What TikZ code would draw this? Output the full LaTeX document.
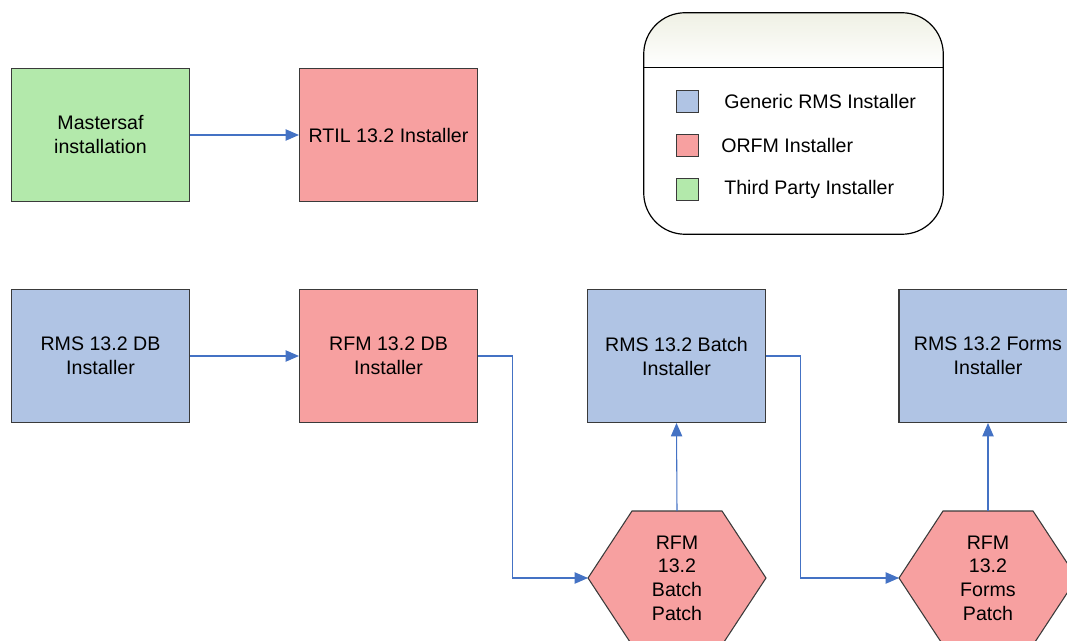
\documentclass[tikz,border=0pt]{standalone}
\usepackage{fontspec}
\setmainfont{Liberation Sans}
\usepackage{xcolor}
\usetikzlibrary{arrows.meta,calc}

\definecolor{rmsblue}{HTML}{B0C4E4}
\definecolor{orfmpink}{HTML}{F7A0A0}
\definecolor{thirdgreen}{HTML}{B3E9AB}
\definecolor{linkblue}{HTML}{4472C4}
\definecolor{edgegray}{HTML}{3A3A3A}
\definecolor{legendtop}{HTML}{EFF0E4}

\tikzset{
    installer/.style={draw=edgegray, line width=0.8pt, minimum width=133.5pt, minimum height=99.75pt,
        align=center, font=\fontsize{14.7}{18}\selectfont},
    patch/.style={draw=edgegray, line width=0.8pt, fill=orfmpink},
    patchtext/.style={align=center, font=\fontsize{14.7}{17.8}\selectfont},
    link/.style={draw=linkblue, line width=0.8pt, -{Triangle[length=10pt,width=8.5pt]}},
    key/.style={draw=edgegray, line width=0.6pt, minimum size=16.5pt, inner sep=0pt},
    keytext/.style={anchor=west, inner sep=0pt, font=\fontsize{14.7}{18}\selectfont},
}

\begin{document}
\begin{tikzpicture}[x=0.75pt, y=-0.75pt]
    \useasboundingbox (0,0) rectangle (1067,641);

    % top row
    \node[installer, fill=thirdgreen] (mastersaf) at (100.5,135) {Mastersaf\\installation};
    \node[installer, fill=orfmpink]   (rtil)      at (388.5,135) {RTIL 13.2 Installer};
    \draw[link] (mastersaf.east) -- (rtil.west);

    % legend
    \node[fill=white, minimum width=224.25pt, minimum height=165.75pt] (legend) at (793.5,123.5) {};
    \begin{scope}
        \clip[rounded corners=31pt] (legend.north west) rectangle (legend.south east);
        \shade[top color=legendtop, bottom color=white] (legend.north west) rectangle ($(legend.north east)+(0,55)$);
    \end{scope}
    \draw[black, line width=0.8pt] ($(legend.north west)+(0,55)$) -- ($(legend.north east)+(0,55)$);
    \draw[black, line width=0.9pt, rounded corners=31pt] (legend.north west) rectangle (legend.south east);

    \node[key, fill=rmsblue]    (keyrms)   at (687.5,101) {};
    \node[key, fill=orfmpink]   (keyorfm)  at (687.5,145.5) {};
    \node[key, fill=thirdgreen] (keythird) at (687.5,189) {};
    \node[keytext] (txtrms)   at (724,101)   {Generic RMS Installer};
    \node[keytext] (txtorfm)  at (721,145.5) {ORFM Installer};
    \node[keytext] (txtthird) at (724,189)   {Third Party Installer};

    % bottom row
    \node[installer, fill=rmsblue]  (rmsdb)    at (100.5,356) {RMS 13.2 DB\\Installer};
    \node[installer, fill=orfmpink] (rfmdb)    at (388.5,356) {RFM 13.2 DB\\Installer};
    \node[installer, fill=rmsblue]  (rmsbatch) at (676.5,356) {RMS 13.2 Batch\\Installer};
    \node[installer, fill=rmsblue]  (rmsforms) at (988,356)   {RMS 13.2 Forms\\Installer};

    % patches
    \draw[patch] (588,578) coordinate (batchW) -- (632,511) -- (722,511) -- (766,578) -- (722,645) -- (632,645) -- cycle;
    \coordinate (batchN) at (677,511);
    \node[patchtext] (batchpatch) at (677,578) {RFM\\13.2\\Batch\\Patch};

    \draw[patch] (899,578) coordinate (formsW) -- (943,511) -- (1033,511) -- (1077,578) -- (1033,645) -- (943,645) -- cycle;
    \coordinate (formsN) at (988,511);
    \node[patchtext] (formspatch) at (988,578) {RFM\\13.2\\Forms\\Patch};

    \draw[link] (rmsdb.east) -- (rfmdb.west);
    \draw[link] (rfmdb.east) -- ++(34,0) |- (batchW);
    \draw[link] (batchN) -- (rmsbatch.south);
    \draw[link] (rmsbatch.east) -- ++(34,0) |- (formsW);
    \draw[link] (formsN) -- (rmsforms.south);
\end{tikzpicture}
\end{document}
